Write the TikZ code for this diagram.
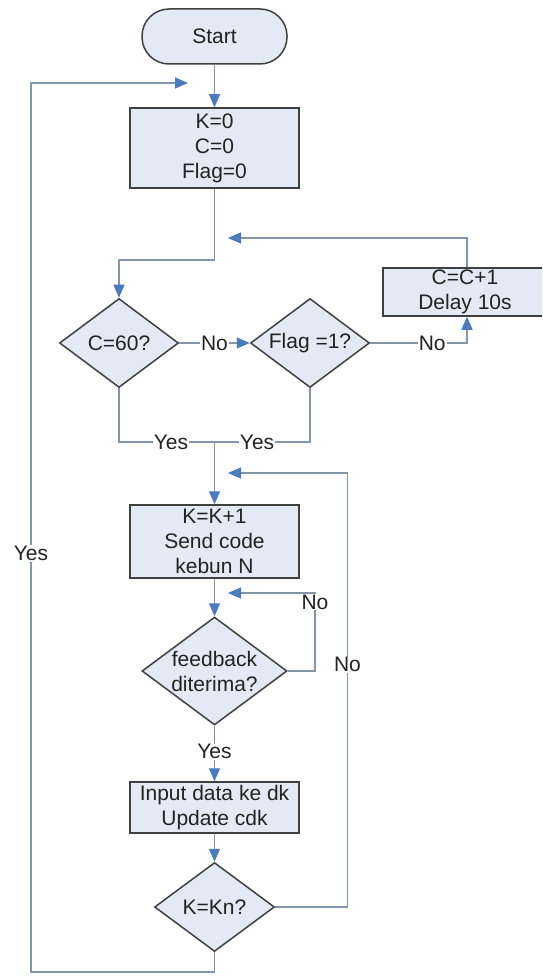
\documentclass[tikz,border=0pt]{standalone}
\usepackage{fontspec}
\setmainfont{Liberation Sans}
\usetikzlibrary{shapes.geometric,arrows.meta}
\definecolor{boxfill}{HTML}{E3EAF5}
\definecolor{boxline}{HTML}{404040}
\definecolor{wire}{HTML}{8494AB}
\definecolor{tipblue}{HTML}{4A7BBE}
\definecolor{ink}{HTML}{222222}

\begin{document}
\begin{tikzpicture}[x=1pt,y=-1pt,
  font=\fontsize{21}{25}\selectfont, text=ink,
  base/.style={draw=boxline, line width=1.5pt, fill=boxfill, align=center, inner sep=0pt},
  terminal/.style={base, rounded corners=27pt, minimum width=145pt, minimum height=55pt},
  process/.style={base, rectangle, minimum width=169pt},
  decision/.style={base, diamond, aspect=1.34},
  flow/.style={draw=wire, line width=1.3pt},
  arr/.style={flow, -{Triangle[width=11pt,length=13pt,color=tipblue]}},
  tag/.style={fill=white, inner sep=1pt, text=ink}
]
\useasboundingbox (0,0) rectangle (542,976);
\clip (0,0) rectangle (542,976);
\fill[white] (0,0) rectangle (542,976);

% blocks
\node[terminal] (start) at (214.5,36.5) {Start};
\node[process, minimum height=80pt] (init) at (214.5,148) {K=0\\C=0\\Flag=0};
\node[decision, minimum width=119pt, minimum height=89pt] (c60) at (119,343) {C=60?};
\node[decision, minimum width=119pt, minimum height=89pt] (flag) at (310,343) {Flag =1?};
\node[process, minimum width=164pt, minimum height=48pt] (inc) at (465,292) {C=C+1\\Delay 10s};
\node[process, minimum height=73pt] (send) at (214.5,541.5) {K=K+1\\Send code\\kebun N};
\node[decision, minimum width=145pt, minimum height=108pt] (fb) at (214.5,671) {feedback\\diterima?};
\node[process, minimum height=51pt] (store) at (214.5,807.5) {Input data ke dk\\Update cdk};
\node[decision, minimum width=120pt, minimum height=89pt] (kn) at (214.5,907) {K=Kn?};

% bend points and free arrow ends
\coordinate (j1) at (214.5,260);
\coordinate (r1) at (467,343);
\coordinate (t1) at (228,238);
\coordinate (m)  at (214.5,442);
\coordinate (f1) at (315,671);
\coordinate (f2) at (315,593);
\coordinate (f3) at (228,593);
\coordinate (k1) at (347.5,907);
\coordinate (k2) at (347.5,473);
\coordinate (k3) at (228,473);
\coordinate (b1) at (214.5,972);
\coordinate (b2) at (31,972);
\coordinate (b3) at (31,83);
\coordinate (b4) at (188,83);

% connectors
\draw[arr] (start) -- (init);
\draw[arr] (init) -- (j1) -| (c60);
\draw[arr] (c60) -- node[tag]{No} (flag);
\draw[arr] (flag.east) -- node[tag,pos=0.64]{No} (r1) -- (r1 |- inc.south);
\draw[arr] (r1 |- inc.north) -- (r1 |- t1) -- (t1);
\draw[flow] (c60) |- node[tag,pos=0.772]{Yes} (m);
\draw[flow] (flag) |- node[tag,pos=0.777]{Yes} (m);
\draw[arr] (m) -- (send);
\draw[arr] (send) -- (fb);
\draw[arr] (fb.east) -- (f1) -- node[tag,pos=0.885]{No} (f2) -- (f3);
\draw[arr] (fb) -- node[tag,pos=0.47]{Yes} (store);
\draw[arr] (store) -- (kn);
\draw[arr] (kn.east) -- (k1) -- node[tag,pos=0.558]{No} (k2) -- (k3);
\draw[arr] (kn.south) -- (b1) -- (b2) -- node[tag,pos=0.471]{Yes} (b3) -- (b4);
\end{tikzpicture}
\end{document}
